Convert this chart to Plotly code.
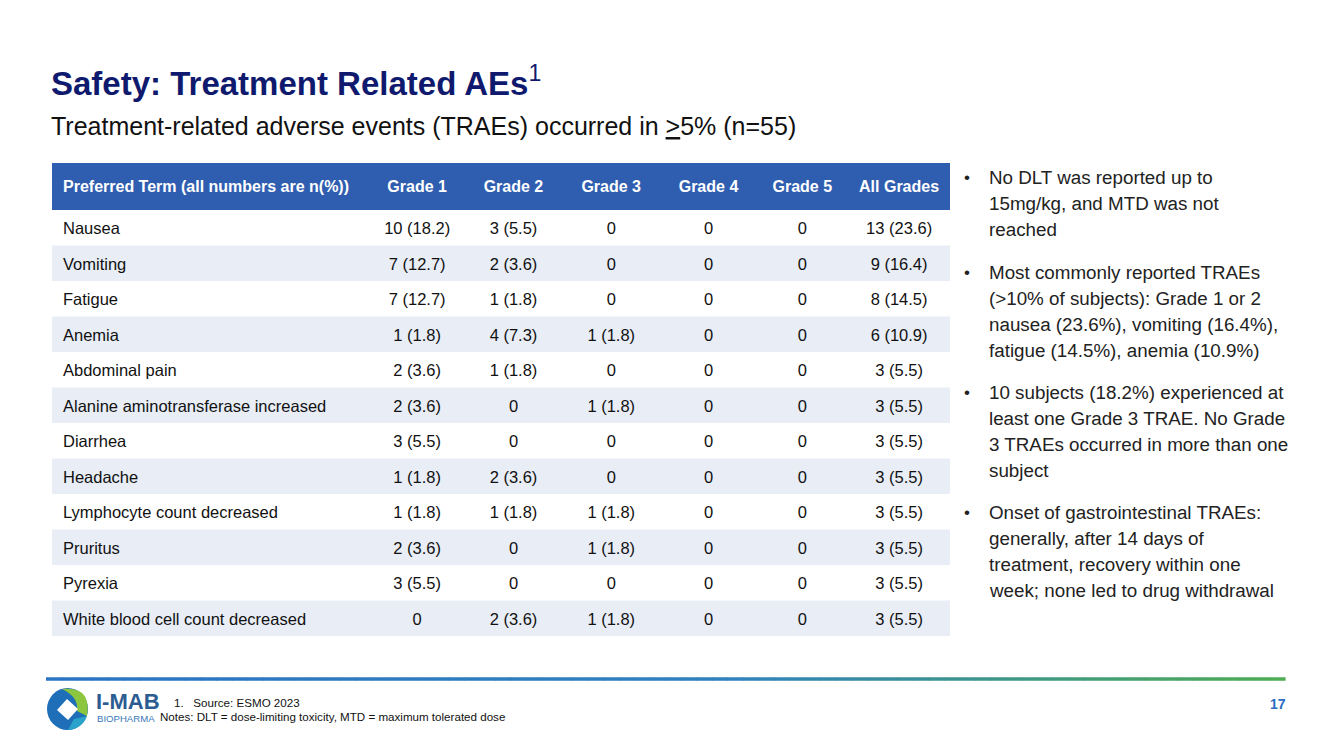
import plotly.graph_objects as go

W, H = 1333, 749
OFF = 8  # page body margin
FW, FH = W - OFF, H - OFF

terms = ["Nausea", "Vomiting", "Fatigue", "Anemia", "Abdominal pain",
         "Alanine aminotransferase increased", "Diarrhea", "Headache",
         "Lymphocyte count decreased", "Pruritus", "Pyrexia",
         "White blood cell count decreased"]
grade1 = ["10 (18.2)", "7 (12.7)", "7 (12.7)", "1 (1.8)", "2 (3.6)", "2 (3.6)",
          "3 (5.5)", "1 (1.8)", "1 (1.8)", "2 (3.6)", "3 (5.5)", "0"]
grade2 = ["3 (5.5)", "2 (3.6)", "1 (1.8)", "4 (7.3)", "1 (1.8)", "0",
          "0", "2 (3.6)", "1 (1.8)", "0", "0", "2 (3.6)"]
grade3 = ["0", "0", "0", "1 (1.8)", "0", "1 (1.8)",
          "0", "0", "1 (1.8)", "1 (1.8)", "0", "1 (1.8)"]
grade4 = ["0"] * 12
grade5 = ["0"] * 12
all_grades = ["13 (23.6)", "9 (16.4)", "8 (14.5)", "6 (10.9)", "3 (5.5)", "3 (5.5)",
              "3 (5.5)", "3 (5.5)", "3 (5.5)", "3 (5.5)", "3 (5.5)", "3 (5.5)"]
headers = ["Preferred Term (all numbers are n(%))", "Grade 1", "Grade 2", "Grade 3",
           "Grade 4", "Grade 5", "All Grades"]

bullets = [
    ["No DLT was reported up to", "15mg/kg, and MTD was not", "reached"],
    ["Most commonly reported TRAEs", "(>10% of subjects): Grade 1 or 2",
     "nausea (23.6%), vomiting (16.4%),", "fatigue (14.5%), anemia (10.9%)"],
    ["10 subjects (18.2%) experienced at", "least one Grade 3 TRAE. No Grade",
     "3 TRAEs occurred in more than one", "subject"],
    ["Onset of gastrointestinal TRAEs:", "generally, after 14 days of",
     "treatment, recovery within one", "week; none led to drug withdrawal"],
]


def px(x):
    return (x - OFF) / FW


def py(y):
    return 1 - (y - OFF) / FH


FONT = "Arial, Liberation Sans, sans-serif"
HEADER_BLUE = "#2F5EB0"
ROW_ALT = "#E8EDF6"
CLEAR = "rgba(0,0,0,0)"

TBL_X0, TBL_X1 = 52, 950
TEXT_X0 = 55  # slightly larger left padding for the first column
HDR_TOP, HDR_H, ROW_H = 163, 47, 35.5
TEXT_SHIFT = 4  # plotly places cell text near the top; shift text rows down
table_top = HDR_TOP + 7
header_h = HDR_H + TEXT_SHIFT - 7

fig = go.Figure()
fig.add_trace(go.Table(
    domain=dict(x=[px(TEXT_X0), px(TBL_X1)], y=[py(660), py(table_top)]),
    columnwidth=[315, 96, 97, 99, 96, 92, 102],
    header=dict(
        values=[f"<b>{h}</b>" for h in headers],
        fill_color=CLEAR,
        line_color=CLEAR,
        font=dict(family=FONT, size=16, color="white"),
        align=["left"] + ["center"] * 6,
        height=header_h,
    ),
    cells=dict(
        values=[terms, grade1, grade2, grade3, grade4, grade5, all_grades],
        fill_color=CLEAR,
        line_color=CLEAR,
        font=dict(family=FONT, size=16.5, color="#111111"),
        align=["left"] + ["center"] * 6,
        height=ROW_H,
    ),
))

shapes = []
# header band and zebra stripes beneath the (transparent) table
shapes.append(dict(type="rect", xref="paper", yref="paper", layer="below",
                   x0=px(TBL_X0), x1=px(TBL_X1), y0=py(HDR_TOP + HDR_H), y1=py(HDR_TOP),
                   fillcolor=HEADER_BLUE, line=dict(width=0)))
for i in range(len(terms)):
    if i % 2 == 1:
        ya = HDR_TOP + HDR_H + i * ROW_H
        shapes.append(dict(type="rect", xref="paper", yref="paper", layer="below",
                           x0=px(TBL_X0), x1=px(TBL_X1), y0=py(ya + ROW_H), y1=py(ya),
                           fillcolor=ROW_ALT, line=dict(width=0)))

ann = []
ann.append(dict(x=px(49), y=py(81), xref="paper", yref="paper", xanchor="left", yanchor="middle",
                text="<b>Safety: Treatment Related AEs</b><sup>1</sup>", showarrow=False,
                font=dict(family=FONT, size=33, color="#0F1A6E")))
ann.append(dict(x=px(49), y=py(126), xref="paper", yref="paper", xanchor="left", yanchor="middle",
                text="Treatment-related adverse events (TRAEs) occurred in <u>></u>5% (n=55)",
                showarrow=False,
                font=dict(family=FONT, size=25, color="#111111")))

starts = [177, 272, 392, 512]
for s, lines in zip(starts, bullets):
    ann.append(dict(x=px(962), y=py(s), xref="paper", yref="paper", xanchor="left", yanchor="middle",
                    text="•", showarrow=False,
                    font=dict(family=FONT, size=17, color="#222222")))
    for k, line in enumerate(lines):
        ann.append(dict(x=px(987), y=py(s + 26.2 * k), xref="paper", yref="paper",
                        xanchor="left", yanchor="middle", text=line, showarrow=False,
                        font=dict(family=FONT, size=18.8, color="#222222")))

ann.append(dict(x=px(172), y=py(702), xref="paper", yref="paper", xanchor="left", yanchor="middle",
                text="1.   Source: ESMO 2023", showarrow=False,
                font=dict(family=FONT, size=11.6, color="#111111")))
ann.append(dict(x=px(158), y=py(716), xref="paper", yref="paper", xanchor="left", yanchor="middle",
                text="Notes: DLT = dose-limiting toxicity, MTD = maximum tolerated dose", showarrow=False,
                font=dict(family=FONT, size=11.6, color="#111111")))
ann.append(dict(x=px(1288), y=py(704), xref="paper", yref="paper", xanchor="right", yanchor="middle",
                text="<b>17</b>", showarrow=False,
                font=dict(family=FONT, size=14, color="#2B6CC4")))
# logo text
ann.append(dict(x=px(94), y=py(701), xref="paper", yref="paper", xanchor="left", yanchor="middle",
                text="<b>I-MAB</b>", showarrow=False,
                font=dict(family=FONT, size=22, color="#2B5C92")))
ann.append(dict(x=px(95), y=py(718), xref="paper", yref="paper", xanchor="left", yanchor="middle",
                text="BIOPHARMA", showarrow=False,
                font=dict(family=FONT, size=9.6, color="#3A78B8")))

# gradient footer line
x0, x1, yl = 46, 1285, 679
n = 80
c0 = (44, 116, 196)
cm = (48, 130, 190)
c1 = (78, 172, 84)
for i in range(n):
    t = i / (n - 1)
    if t < 0.55:
        u = t / 0.55
        c = tuple(int(c0[j] + (cm[j] - c0[j]) * u) for j in range(3))
    else:
        u = (t - 0.55) / 0.45
        c = tuple(int(cm[j] + (c1[j] - cm[j]) * u) for j in range(3))
    xa = x0 + (x1 - x0) * i / n
    xb = x0 + (x1 - x0) * (i + 1) / n + 0.6
    shapes.append(dict(type="line", xref="paper", yref="paper",
                       x0=px(xa), x1=px(xb), y0=py(yl), y1=py(yl),
                       line=dict(color=f"rgb{c}", width=3.5)))

# logo mark
shapes.append(dict(type="circle", xref="paper", yref="paper",
                   x0=px(47), x1=px(88), y0=py(730), y1=py(688),
                   fillcolor="#1E6FB8", line=dict(width=0)))
shapes.append(dict(type="path", xref="paper", yref="paper",
                   path=f"M {px(62)} {py(689)} Q {px(92)} {py(686)} {px(87)} {py(716)} "
                        f"L {px(77)} {py(711)} Q {px(79)} {py(697)} {px(62)} {py(689)} Z",
                   fillcolor="#8CC63F", line=dict(width=0)))
shapes.append(dict(type="path", xref="paper", yref="paper",
                   path=f"M {px(87)} {py(716)} Q {px(82)} {py(729)} {px(68)} {py(730)} "
                        f"L {px(74)} {py(719)} Z",
                   fillcolor="#29A3C9", line=dict(width=0)))
shapes.append(dict(type="path", xref="paper", yref="paper",
                   path=f"M {px(57)} {py(710)} L {px(67)} {py(699)} L {px(78)} {py(709)} "
                        f"L {px(68)} {py(720)} Z",
                   fillcolor="white", line=dict(width=0)))

fig.update_layout(
    width=FW, height=FH,
    margin=dict(l=0, r=0, t=0, b=0),
    paper_bgcolor="white", plot_bgcolor="white",
    annotations=ann, shapes=shapes,
    showlegend=False,
)
fig.write_html("out.html")
